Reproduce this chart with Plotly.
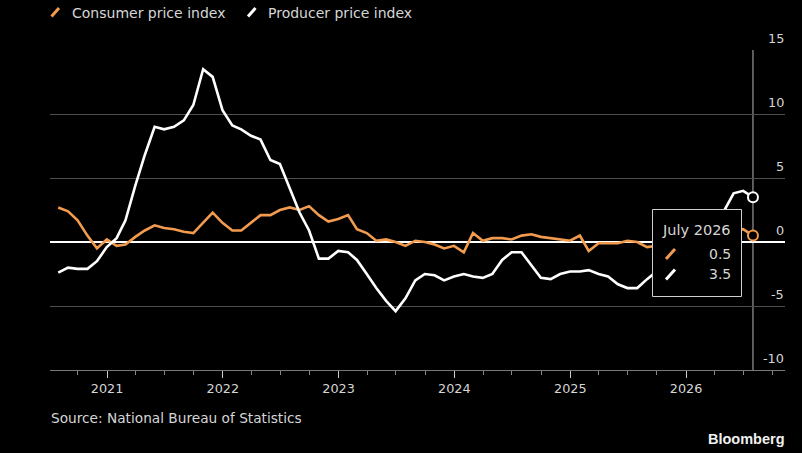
import pandas as pd
import plotly.graph_objects as go

# ---------------- data ----------------
months = (pd.date_range(start="2020-07-01", periods=73, freq="MS") + pd.offsets.MonthEnd(0)).strftime("%Y-%m-%d").tolist()

cpi = [2.7, 2.4, 1.7, 0.5, -0.5, 0.2,
       -0.3, -0.2, 0.4, 0.9, 1.3, 1.1, 1.0, 0.8, 0.7, 1.5, 2.3, 1.5,
       0.9, 0.9, 1.5, 2.1, 2.1, 2.5, 2.7, 2.5, 2.8, 2.1, 1.6, 1.8,
       2.1, 1.0, 0.7, 0.1, 0.2, 0.0, -0.3, 0.1, 0.0, -0.2, -0.5, -0.3,
       -0.8, 0.7, 0.1, 0.3, 0.3, 0.2, 0.5, 0.6, 0.4, 0.3, 0.2, 0.1,
       0.5, -0.7, -0.1, -0.1, -0.1, 0.1, 0.0, -0.4, -0.3, 0.2, 0.7, 0.8,
       0.6, 0.9, 0.8, 1.0, 0.9, 1.0, 0.5]

ppi = [-2.4, -2.0, -2.1, -2.1, -1.5, -0.4,
       0.3, 1.7, 4.4, 6.8, 9.0, 8.8, 9.0, 9.5, 10.7, 13.5, 12.9, 10.3,
       9.1, 8.8, 8.3, 8.0, 6.4, 6.1, 4.2, 2.3, 0.9, -1.3, -1.3, -0.7,
       -0.8, -1.4, -2.5, -3.6, -4.6, -5.4, -4.4, -3.0, -2.5, -2.6, -3.0, -2.7,
       -2.5, -2.7, -2.8, -2.5, -1.4, -0.8, -0.8, -1.8, -2.8, -2.9, -2.5, -2.3,
       -2.3, -2.2, -2.5, -2.7, -3.3, -3.6, -3.6, -2.9, -2.3, -2.1, -2.2, -1.9,
       -1.4, -0.6, 0.6, 2.4, 3.8, 4.0, 3.5]

series_names = ["Consumer price index", "Producer price index"]
y_tickvals = [-10, -5, 0, 5, 10, 15]
y_ticktext = ["-10", "-5", "0", "5", "10", "15"]
hover_label = "July 2026"
source_text = "Source: National Bureau of Statistics"

# ---------------- style ----------------
ORANGE = "#f29b4e"
WHITE = "#ffffff"
TEXT = "#d6d6d6"
GRID = "#4f4f4f"
FONT = "DejaVu Sans"

W, H = 802, 453
L, R, T, B = 50, 17, 50, 83
PW, PH = W - L - R, H - T - B

def px(x):
    return (x - L) / PW

def py(y):
    return (H - B - y) / PH

fig = go.Figure()
fig.add_trace(go.Scatter(x=months, y=cpi, mode="lines", line=dict(color=ORANGE, width=2.6),
                         name=series_names[0], showlegend=False, hoverinfo="skip"))
fig.add_trace(go.Scatter(x=months, y=ppi, mode="lines", line=dict(color=WHITE, width=2.6),
                         name=series_names[1], showlegend=False, hoverinfo="skip"))
# end markers
fig.add_trace(go.Scatter(x=[months[-1]], y=[cpi[-1]], mode="markers",
                         marker=dict(size=10, color="black", line=dict(color=ORANGE, width=2)),
                         showlegend=False, hoverinfo="skip"))
fig.add_trace(go.Scatter(x=[months[-1]], y=[ppi[-1]], mode="markers",
                         marker=dict(size=10, color="black", line=dict(color=WHITE, width=2)),
                         showlegend=False, hoverinfo="skip"))

shapes = []
# hover vertical line
shapes.append(dict(type="line", xref="x", yref="paper", x0=months[-1], x1=months[-1], y0=0, y1=1,
                   line=dict(color="#b5b5b5", width=1), layer="between"))
# tooltip box
shapes.append(dict(type="rect", xref="paper", yref="paper", x0=px(652.5), x1=px(741.5),
                   y0=py(296.5), y1=py(209.5), fillcolor="black",
                   line=dict(color="#cfcfcf", width=1), layer="above"))
# tooltip slashes
shapes.append(dict(type="line", xref="paper", yref="paper", x0=px(666), y0=py(259), x1=px(675), y1=py(249),
                   line=dict(color=ORANGE, width=3), layer="above"))
shapes.append(dict(type="line", xref="paper", yref="paper", x0=px(666), y0=py(279.5), x1=px(675), y1=py(269.5),
                   line=dict(color=WHITE, width=3), layer="above"))
# legend slashes
shapes.append(dict(type="line", xref="paper", yref="paper", x0=px(51.5), y0=py(16.5), x1=px(59), y1=py(8),
                   line=dict(color=ORANGE, width=3), layer="above"))
shapes.append(dict(type="line", xref="paper", yref="paper", x0=px(248), y0=py(16.5), x1=px(255.5), y1=py(8),
                   line=dict(color=WHITE, width=3), layer="above"))

annotations = [
    dict(text=series_names[0], x=px(70), y=py(12.5), xref="paper", yref="paper", xanchor="left",
         yanchor="middle", showarrow=False, font=dict(family=FONT, size=14, color=TEXT)),
    dict(text=series_names[1], x=px(266), y=py(12.5), xref="paper", yref="paper", xanchor="left",
         yanchor="middle", showarrow=False, font=dict(family=FONT, size=14, color=TEXT)),
    dict(text=source_text, x=px(49), y=py(418), xref="paper", yref="paper", xanchor="left",
         yanchor="middle", showarrow=False, font=dict(family=FONT, size=13.7, color=TEXT)),
    dict(text="<b>Bloomberg</b>", x=px(787), y=py(439), xref="paper", yref="paper", xanchor="right",
         yanchor="middle", showarrow=False, font=dict(family="Liberation Sans", size=14.5, color="#f0f0f0")),
    dict(text=hover_label, x=px(733), y=py(230), xref="paper", yref="paper", xanchor="right",
         yanchor="middle", showarrow=False, font=dict(family=FONT, size=14.5, color=TEXT)),
    dict(text=f"{cpi[-1]:.1f}", x=px(733), y=py(254), xref="paper", yref="paper", xanchor="right",
         yanchor="middle", showarrow=False, font=dict(family=FONT, size=14, color=TEXT)),
    dict(text=f"{ppi[-1]:.1f}", x=px(733), y=py(274), xref="paper", yref="paper", xanchor="right",
         yanchor="middle", showarrow=False, font=dict(family=FONT, size=14, color=TEXT)),
]
# y tick labels placed above their gridlines at the right edge
for v, t in zip(y_tickvals, y_ticktext):
    annotations.append(dict(text=t, x=px(786), y=v, xref="paper", yref="y", xanchor="right",
                            yanchor="middle", yshift=12, showarrow=False,
                            font=dict(family=FONT, size=12.8, color=TEXT)))

fig.update_layout(
    width=W, height=H,
    margin=dict(l=L, r=R, t=T, b=B, pad=0),
    paper_bgcolor="black", plot_bgcolor="black",
    font=dict(family=FONT, color=TEXT, size=12),
    shapes=shapes, annotations=annotations,
    showlegend=False,
    xaxis=dict(
        type="date", range=["2020-07-05", "2026-11-09"],
        tick0="2021-01-01", dtick="M12", tickformat="%Y",
        ticks="outside", ticklen=7, tickwidth=1, tickcolor="#cccccc",
        showgrid=False, showline=True, linecolor="#777777", linewidth=1,
        zeroline=False,
        tickfont=dict(family=FONT, size=12.8, color=TEXT),
        minor=dict(dtick="M3", tick0="2021-01-01", ticks="outside", ticklen=4, tickcolor="#888888", showgrid=False),
        fixedrange=True,
    ),
    yaxis=dict(
        range=[-10, 15], side="right",
        tickvals=y_tickvals, showticklabels=False, ticks="",
        showgrid=True, gridcolor=GRID, gridwidth=1,
        zeroline=True, zerolinecolor="#ffffff", zerolinewidth=1.5,
        showline=False,
        fixedrange=True,
    ),
)

fig.write_html("out.html", config={"displayModeBar": False},
               post_script="document.body.style.margin='0px';document.body.style.background='black';")
